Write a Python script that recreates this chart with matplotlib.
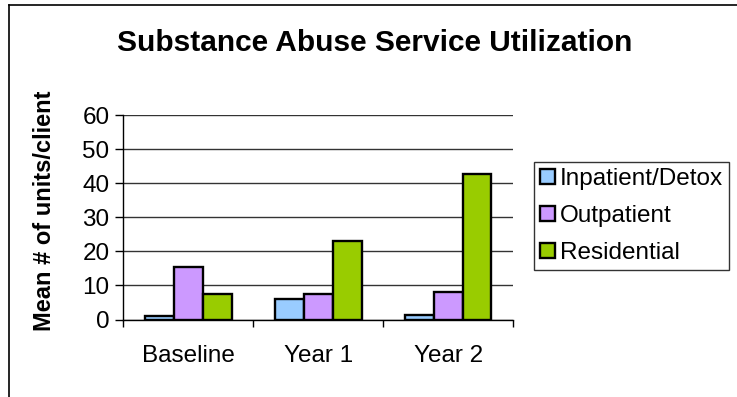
import matplotlib
matplotlib.use("Agg")
import matplotlib.pyplot as plt
from matplotlib.lines import Line2D
import numpy as np

categories = ["Baseline", "Year 1", "Year 2"]
series_names = ["Inpatient/Detox", "Outpatient", "Residential"]
inpatient = [1.0, 6.1, 1.4]
outpatient = [15.5, 7.6, 8.2]
residential = [7.6, 23.0, 42.7]
colors = ["#99CCFF", "#CC99FF", "#99CC00"]
yticks = [0, 10, 20, 30, 40, 50, 60]

plt.rcParams['font.family'] = ['Liberation Sans', 'DejaVu Sans']

W, H = 737, 397
fig = plt.figure(figsize=(W / 100, H / 100), dpi=100)
ax = fig.add_axes([123.5 / W, 1 - 319.5 / H, (513 - 123.5) / W, (319.5 - 115) / H])

x = np.arange(len(categories))
bw = 1 / 4.5
for i, (vals, col, name) in enumerate(zip([inpatient, outpatient, residential], colors, series_names)):
    ax.bar(x + (i - 1) * bw, vals, width=bw, color=col, edgecolor='black', linewidth=1.7,
           label=name, zorder=3)

ax.set_xlim(-0.5, 2.5)
ax.set_ylim(0, 60)
ax.set_yticks(yticks)
ax.set_yticklabels([str(v) for v in yticks], fontsize=17.5)
ax.yaxis.grid(True, color='#333333', linewidth=1.0, zorder=0)
ax.set_axisbelow(True)

ax.set_xticks(x)
ax.set_xticklabels(categories, fontsize=17.5)
ax.set_xticks([-0.5, 0.5, 1.5, 2.5], minor=True)
ax.tick_params(axis='x', which='major', length=0, pad=18)
ax.tick_params(axis='x', which='minor', length=5, width=1, direction='out')
ax.tick_params(axis='y', length=6, width=1, direction='out', pad=4)

for s in ['top', 'right']:
    ax.spines[s].set_visible(False)
ax.spines['left'].set_linewidth(1)
ax.spines['bottom'].set_linewidth(1)

ax.set_ylabel("Mean # of units/client", fontsize=17, fontweight='bold')
ax.yaxis.set_label_coords(-67 / (513 - 123.5), 0.53)

fig.text(375 / W, 1 - 43 / H, "Substance Abuse Service Utilization", ha='center', va='center',
         fontsize=21.5, fontweight='bold')

leg = fig.legend(loc='upper left', bbox_to_anchor=(534 / W, 1 - 162 / H), fontsize=17.5,
                 frameon=True, fancybox=False, edgecolor='black', handlelength=0.6,
                 handleheight=0.6, handletextpad=0.2, labelspacing=0.62, borderpad=0.25,
                 borderaxespad=0)
leg.get_frame().set_linewidth(1)
for h in leg.legend_handles:
    h.set_linewidth(1.7)

fig.add_artist(Line2D([8.5 / W, 8.5 / W], [0, 1 - 4.5 / H], transform=fig.transFigure, color='black', linewidth=1.2))
fig.add_artist(Line2D([8.5 / W, 1], [1 - 4.5 / H, 1 - 4.5 / H], transform=fig.transFigure, color='black', linewidth=1.2))

fig.savefig("out.png", dpi=100)
